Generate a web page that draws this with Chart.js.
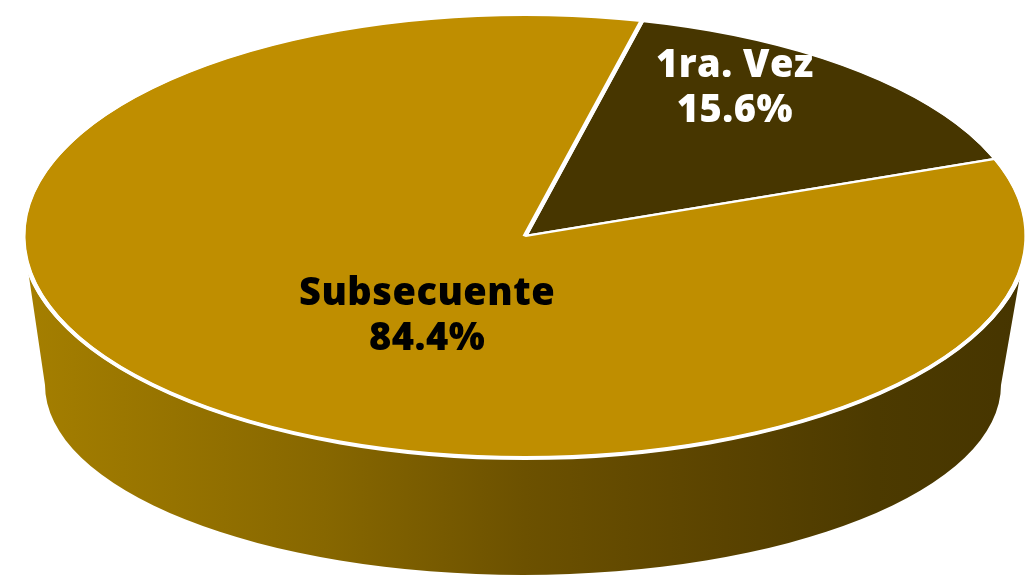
<!DOCTYPE html>
<html>
<head>
<meta charset="utf-8">
<script src="https://cdn.jsdelivr.net/npm/chart.js@4/dist/chart.umd.min.js"></script>
<style>
  html, body { margin: 0; padding: 0; background: #ffffff; }
  #wrap { width: 1035px; height: 576px; }
</style>
</head>
<body>
<div id="wrap"><canvas id="c" width="1035" height="576"></canvas></div>
<script>
const categories = ['1ra. Vez', 'Subsecuente'];
const values = [15.6, 84.4];
const sliceColors = ['#473600', '#BF8E00'];
const labelColors = ['#ffffff', '#000000'];

// geometry of the 3D look
const RX = 502;          // outer radius (pixels) of the pie before squashing
const RY = 222;          // vertical radius of the top face
const SQ = RY / RX;
const BOTTOM = { dx: -2, dy: 149, rx: 478, ry: 190 }; // lower rim of the side wall

const total = values.reduce((a, b) => a + b, 0);

const pie3d = {
  id: 'pie3d',
  beforeDatasetsDraw(chart) {
    const ctx = chart.ctx;
    const arc = chart.getDatasetMeta(0).data[0];
    const cx = arc.x, cy = arc.y;
    // side wall
    ctx.save();
    const g = ctx.createLinearGradient(cx - RX, 0, cx + RX, 0);
    g.addColorStop(0, '#a57f00');
    g.addColorStop(0.3, '#876700');
    g.addColorStop(0.5, '#6c5100');
    g.addColorStop(0.7, '#5a4300');
    g.addColorStop(0.85, '#4c3a00');
    g.addColorStop(1, '#463500');
    ctx.beginPath();
    ctx.ellipse(cx, cy, RX, RY, 0, 0, Math.PI, false);
    ctx.ellipse(cx + BOTTOM.dx, cy + BOTTOM.dy, BOTTOM.rx, BOTTOM.ry, 0, Math.PI, 0, true);
    ctx.closePath();
    ctx.fillStyle = g;
    ctx.fill();
    ctx.restore();
    // squash the pie into an ellipse
    ctx.save();
    ctx.translate(cx, cy);
    ctx.scale(1, SQ);
    ctx.translate(-cx, -cy);
  },
  afterDatasetsDraw(chart) {
    const ctx = chart.ctx;
    ctx.restore();
    const arc = chart.getDatasetMeta(0).data[0];
    const cx = arc.x, cy = arc.y;
    ctx.save();
    ctx.beginPath();
    ctx.ellipse(cx, cy, RX, RY, 0, 0, Math.PI * 2);
    ctx.strokeStyle = '#ffffff';
    ctx.lineWidth = 4;
    ctx.stroke();
    ctx.restore();
  },
  afterDraw(chart) {
    const ctx = chart.ctx;
    const arc = chart.getDatasetMeta(0).data[0];
    const cx = arc.x, cy = arc.y;
    // label anchors relative to the pie centre, in units of the radii
    const anchors = [[0.418, -0.66], [-0.195, 0.365]];
    ctx.save();
    ctx.font = '800 38px "Open Sans", "DejaVu Sans", sans-serif';
    if ('letterSpacing' in ctx) ctx.letterSpacing = '0.5px';
    ctx.textAlign = 'center';
    ctx.textBaseline = 'middle';
    categories.forEach((name, i) => {
      const x = cx + anchors[i][0] * RX;
      const y = cy + anchors[i][1] * RY;
      const pct = (values[i] / total * 100).toFixed(1) + '%';
      ctx.fillStyle = labelColors[i];
      ctx.fillText(name, x, y - 23);
      ctx.fillText(pct, x, y + 22);
    });
    ctx.restore();
  }
};

new Chart(document.getElementById('c'), {
  type: 'pie',
  data: {
    labels: categories,
    datasets: [{
      data: values,
      backgroundColor: sliceColors,
      borderColor: '#ffffff',
      borderWidth: 5,
      radius: RX,
      clip: false
    }]
  },
  options: {
    responsive: false,
    animation: false,
    events: [],
    rotation: 13.5,
    layout: { padding: { left: 15, right: 0, top: 0, bottom: 104 } },
    plugins: { legend: { display: false }, tooltip: { enabled: false } }
  },
  plugins: [pie3d]
});
</script>
</body>
</html>
